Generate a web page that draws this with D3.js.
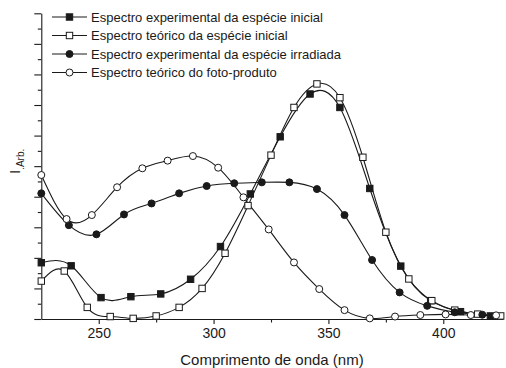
<!DOCTYPE html>
<html>
<head>
<meta charset="utf-8">
<script src="https://cdn.jsdelivr.net/npm/d3@7"></script>
<style>
  html, body { margin: 0; padding: 0; background: #fff; }
  svg { display: block; }
  text { font-family: "Liberation Sans", Arial, Helvetica, sans-serif; fill: #1a1a1a; }
</style>
</head>
<body>
<svg id="chart" width="506" height="368"></svg>
<script>
// Wavelengths (nm) and arbitrary intensities for each spectrum
const expInitialX = [225, 238, 251, 264, 277, 290, 303, 316, 329, 342, 355, 368, 381.5, 394.5, 407.5, 420.5];
const expInitialY = [1.84, 1.74, 0.70, 0.73, 0.82, 1.30, 2.37, 4.09, 5.96, 7.36, 6.92, 4.27, 1.73, 0.60, 0.24, 0.10];

const teoInitialX = [225, 235, 245, 255, 265, 275, 285, 295, 305, 315, 325, 335, 345, 355, 365, 375, 385, 395, 405, 415, 425];
const teoInitialY = [1.24, 1.57, 0.38, 0.08, 0.02, 0.10, 0.38, 1.00, 2.15, 3.71, 5.36, 6.92, 7.69, 7.24, 5.29, 2.84, 1.31, 0.60, 0.29, 0.16, 0.10];

const expIrradX = [225, 237, 249, 261, 273, 285, 297, 309, 321, 333, 345, 357, 369, 381, 393, 405, 417];
const expIrradY = [4.11, 3.07, 2.77, 3.42, 3.78, 4.11, 4.35, 4.44, 4.47, 4.47, 4.25, 3.40, 1.93, 0.87, 0.43, 0.22, 0.14];

const teoPhotoX = [225, 236, 247, 258, 269, 280, 291, 302, 313, 324, 335, 346, 357, 368, 379, 390, 401, 412, 423];
const teoPhotoY = [4.71, 3.27, 3.40, 4.31, 4.93, 5.18, 5.33, 4.95, 3.98, 2.93, 1.85, 0.98, 0.29, 0.02, 0.08, 0.13, 0.15, 0.13, 0.12];

const legendLabels = [
  "Espectro experimental da espécie inicial",
  "Espectro teórico da espécie inicial",
  "Espectro experimental da espécie irradiada",
  "Espectro teórico do foto-produto"
];
const xTickValues = [250, 300, 350, 400];
const xMinorValues = [275, 325, 375];
const xTitle = "Comprimento de onda (nm)";

const series = [
  { xs: expInitialX, ys: expInitialY, shape: "square", filled: true },
  { xs: teoInitialX, ys: teoInitialY, shape: "square", filled: false },
  { xs: expIrradX, ys: expIrradY, shape: "circle", filled: true },
  { xs: teoPhotoX, ys: teoPhotoY, shape: "circle", filled: false }
];

const ink = "#1a1a1a";
const svg = d3.select("#chart");
const plotLeft = 41.3, plotRight = 503, plotTop = 13.3, plotBottom = 319;

const x = d3.scaleLinear().domain([225, 426]).range([plotLeft, plotRight]);
const y = d3.scaleLinear().domain([0, 10]).range([plotBottom, plotTop]);

// Axes
const gx = svg.append("g").attr("transform", `translate(0,${plotBottom})`);
gx.call(d3.axisBottom(x).tickValues(xTickValues).tickSize(5).tickPadding(4).tickSizeOuter(0));
gx.append("g").call(d3.axisBottom(x).tickValues(xMinorValues).tickSize(3.5).tickFormat("").tickSizeOuter(0))
  .select(".domain").remove();
gx.selectAll("text").attr("font-size", 14).style("font-family", "inherit").attr("fill", ink);

const gy = svg.append("g").attr("transform", `translate(${plotLeft},0)`);
gy.call(d3.axisLeft(y).tickValues(d3.range(0, 11, 1)).tickSize(7).tickFormat("").tickSizeOuter(0));
gy.append("g").call(d3.axisLeft(y).tickValues(d3.range(0.5, 10, 1)).tickSize(3.5).tickFormat("").tickSizeOuter(0))
  .select(".domain").remove();

svg.selectAll(".domain, .tick line").attr("stroke", ink).attr("stroke-width", 1.1);

// Axis titles
svg.append("text")
  .attr("x", 272).attr("y", 365)
  .attr("text-anchor", "middle").attr("font-size", 15)
  .text(xTitle);

const yLab = svg.append("text")
  .attr("transform", "translate(20,174) rotate(-90)")
  .attr("font-size", 15);
yLab.append("tspan").text("I");
yLab.append("tspan").attr("font-size", 10).attr("dy", 4).text(".Arb.");

// Curves and markers
const line = d3.line().x(d => x(d[0])).y(d => y(d[1])).curve(d3.curveNatural);

function drawMarker(g, shape, filled, cx, cy) {
  if (shape === "square") {
    g.append("rect")
      .attr("x", cx - 3.2).attr("y", cy - 3.2)
      .attr("width", 6.4).attr("height", 6.4)
      .attr("fill", filled ? ink : "#fff")
      .attr("stroke", ink).attr("stroke-width", 1);
  } else {
    g.append("circle")
      .attr("cx", cx).attr("cy", cy).attr("r", 3.5)
      .attr("fill", filled ? ink : "#fff")
      .attr("stroke", ink).attr("stroke-width", 1);
  }
}

series.forEach(s => {
  const pts = s.xs.map((v, i) => [v, s.ys[i]]);
  svg.append("path").datum(pts)
    .attr("d", line)
    .attr("fill", "none").attr("stroke", ink).attr("stroke-width", 1.1);
});
series.forEach(s => {
  const g = svg.append("g");
  s.xs.forEach((v, i) => drawMarker(g, s.shape, s.filled, x(v), y(s.ys[i])));
});

// Legend
const legendRows = [17, 35.5, 54, 72.5];
series.forEach((s, i) => {
  const g = svg.append("g").attr("transform", `translate(0,${legendRows[i]})`);
  g.append("line").attr("x1", 52).attr("x2", 87).attr("y1", 0).attr("y2", 0)
    .attr("stroke", ink).attr("stroke-width", 1.1);
  drawMarker(g, s.shape, s.filled, 69.5, 0);
  g.append("text").attr("x", 91).attr("y", 4.7).attr("font-size", 13).text(legendLabels[i]);
});
</script>
</body>
</html>
